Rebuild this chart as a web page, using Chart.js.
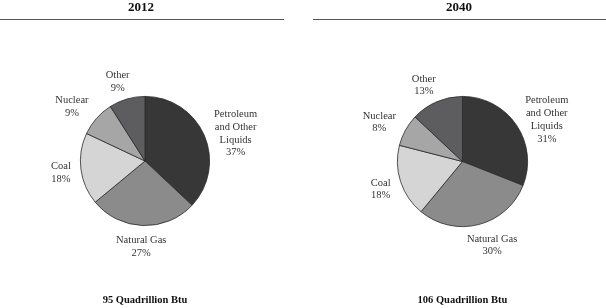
<!DOCTYPE html>
<html><head><meta charset="utf-8">
<script src="https://cdn.jsdelivr.net/npm/chart.js@4/dist/chart.umd.min.js"></script>
<style>
html,body{margin:0;padding:0;background:#fff;}
#wrap{position:relative;width:606px;height:308px;}
.panel{position:absolute;top:0;width:303px;height:308px;}
</style></head>
<body>
<div id="wrap">
  <div class="panel" style="left:0"><canvas id="c1" width="303" height="308"></canvas></div>
  <div class="panel" style="left:303px"><canvas id="c2" width="303" height="308"></canvas></div>
</div>
<script>
const categories = ["Petroleum and Other Liquids", "Natural Gas", "Coal", "Nuclear", "Other"];
const labelLines = [["Petroleum", "and Other", "Liquids"], ["Natural Gas"], ["Coal"], ["Nuclear"], ["Other"]];
const share2012 = [37, 27, 18, 9, 9];
const share2040 = [31, 30, 18, 8, 13];
const years = ["2012", "2040"];
const totals = ["95 Quadrillion Btu", "106 Quadrillion Btu"];
const sliceColors = ["#383738", "#8b8b8b", "#d5d5d5", "#a6a6a6", "#5d5d5f"];

const FONT = "'Liberation Serif', 'Times New Roman', serif";

const decor = {
  id: 'decor',
  afterDraw(chart, args, opts) {
    const ctx = chart.ctx;
    ctx.save();
    // title
    ctx.fillStyle = '#111';
    ctx.font = 'bold 13px ' + FONT;
    ctx.textAlign = 'center';
    ctx.textBaseline = 'middle';
    ctx.fillText(opts.title, opts.titleX, 8);
    // rule
    ctx.strokeStyle = '#555';
    ctx.lineWidth = 1;
    ctx.beginPath();
    ctx.moveTo(opts.ruleX0, 19.5);
    ctx.lineTo(opts.ruleX1, 19.5);
    ctx.stroke();
    // footer
    ctx.font = 'bold 10.5px ' + FONT;
    const meta = chart.getDatasetMeta(0);
    const cx = meta.data[0].x;
    ctx.fillText(opts.footer, cx, 300);
    // slice labels
    ctx.font = '10.5px ' + FONT;
    ctx.fillStyle = '#333';
    const lh = 12.7;
    const vals = chart.data.datasets[0].data;
    meta.data.forEach((arc, i) => {
      const p = arc.getProps(['x', 'y', 'startAngle', 'endAngle', 'outerRadius'], true);
      const mid = (p.startAngle + p.endAngle) / 2;
      const lines = labelLines[i].concat([vals[i] + '%']);
      let w = 0;
      lines.forEach(l => { w = Math.max(w, ctx.measureText(l).width); });
      const hw = w / 2, hh = lines.length * lh / 2;
      const c = Math.cos(mid), s = Math.sin(mid);
      const ax = p.x + c * p.outerRadius, ay = p.y + s * p.outerRadius;
      const bx = ax + Math.sin(c * Math.PI / 2) * (hw + 10);
      const by = ay + s * (lh + 7) - Math.sign(s) * (hh - lh) * 0.35 + 1.5;
      lines.forEach((l, k) => {
        ctx.fillText(l, bx, by - hh + lh * (k + 0.5));
      });
    });
    ctx.restore();
  }
};

function makeChart(id, values, idx, pad, decorOpts) {
  return new Chart(document.getElementById(id), {
    type: 'pie',
    data: {
      labels: categories,
      datasets: [{
        data: values,
        backgroundColor: sliceColors,
        borderColor: '#2a2a2a',
        borderWidth: 0.8,
        hoverOffset: 0
      }]
    },
    options: {
      responsive: false,
      animation: false,
      events: [],
      layout: { padding: pad },
      plugins: {
        legend: { display: false },
        tooltip: { enabled: false },
        decor: Object.assign({ title: years[idx], footer: totals[idx] }, decorOpts)
      }
    },
    plugins: [decor]
  });
}

makeChart('c1', share2012, 0, { left: 2, right: 15, top: 96, bottom: 82 }, { titleX: 141, ruleX0: 0, ruleX1: 284 });
makeChart('c2', share2040, 1, { left: 22, right: 6, top: 96, bottom: 81 }, { titleX: 156, ruleX0: 10, ruleX1: 303 });
</script>
</body></html>
